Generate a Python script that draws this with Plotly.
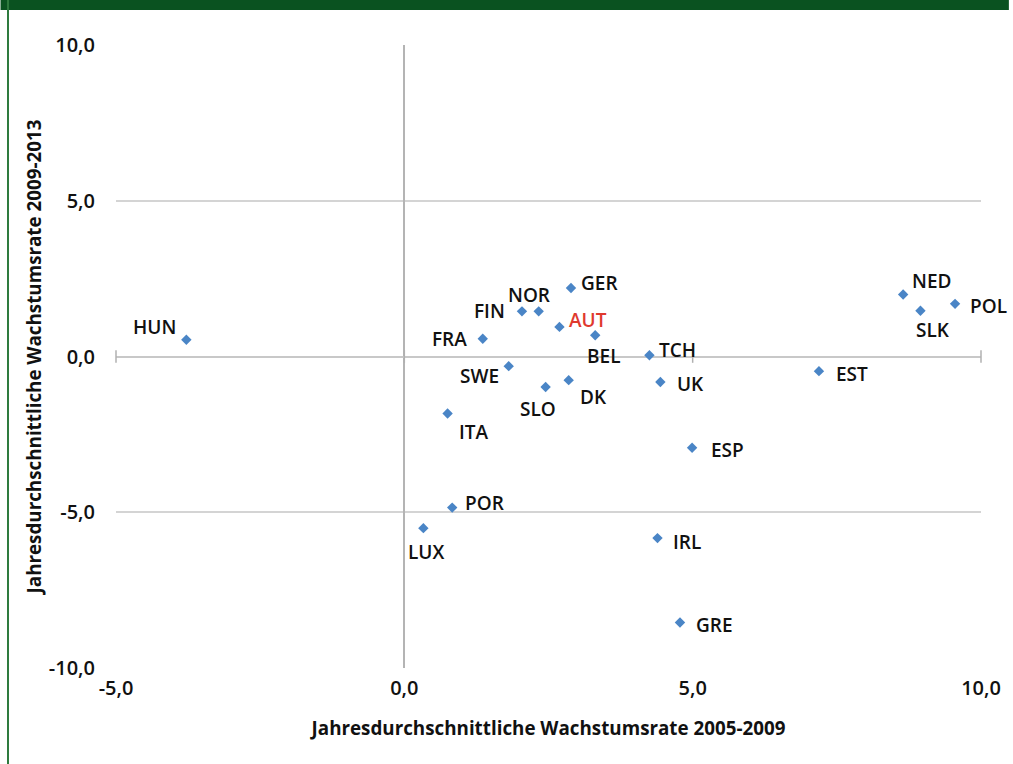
import plotly.graph_objects as go

# ---- data ----
countries = ["HUN", "FIN", "NOR", "FRA", "SWE", "ITA", "SLO", "GER", "AUT", "BEL", "DK",
             "TCH", "UK", "EST", "NED", "SLK", "POL", "ESP", "POR", "LUX", "IRL", "GRE"]
growth_2005_2009 = [-3.78, 2.04, 2.33, 1.36, 1.81, 0.75, 2.45, 2.89, 2.69, 3.31, 2.85,
                    4.25, 4.44, 7.19, 8.65, 8.95, 9.55, 4.99, 0.83, 0.33, 4.39, 4.78]
growth_2009_2013 = [0.54, 1.45, 1.45, 0.57, -0.31, -1.83, -0.98, 2.20, 0.95, 0.68, -0.76,
                    0.04, -0.82, -0.47, 1.99, 1.47, 1.69, -2.93, -4.85, -5.51, -5.83, -8.54]
x_tick_values = [-5, 0, 5, 10]
y_tick_values = [-10, -5, 0, 5, 10]
x_tick_text = [f"{v:.1f}".replace(".", ",") for v in x_tick_values]
y_tick_text = [f"{v:.1f}".replace(".", ",") for v in y_tick_values]
x_title = "Jahresdurchschnittliche Wachstumsrate 2005-2009"
y_title = "Jahresdurchschnittliche Wachstumsrate 2009-2013"

# ---- label offsets (pixels, style only) ----
label_dx = {"HUN": -32, "FIN": -32, "NOR": -10, "FRA": -33, "SWE": -29, "ITA": 26, "SLO": -8,
            "GER": 29, "AUT": 29, "BEL": 8, "DK": 25, "TCH": 28, "UK": 30, "EST": 33,
            "NED": 28, "SLK": 13, "POL": 33, "ESP": 35, "POR": 32, "LUX": 3, "IRL": 30, "GRE": 35}
label_dy = {"HUN": 13, "FIN": 0, "NOR": 16, "FRA": 0, "SWE": -10, "ITA": -18, "SLO": -22,
            "GER": 5, "AUT": 7, "BEL": -21, "DK": -17, "TCH": 5, "UK": -2, "EST": -3,
            "NED": 14, "SLK": -19, "POL": -2, "ESP": -2, "POR": 5, "LUX": -24, "IRL": -4, "GRE": -2}

W, H = 1013, 764
ML, MR, MT, MB = 116, 28, 45, 96
FONT = "Open Sans"

fig = go.Figure()

# axis tick marks on the zero line
fig.add_trace(go.Scatter(
    x=x_tick_values, y=[0] * len(x_tick_values), mode="markers",
    marker=dict(symbol="line-ns-open", size=9, color="#b0b0b0", line=dict(color="#b0b0b0", width=1.5)),
    hoverinfo="skip", showlegend=False, cliponaxis=False))

fig.add_trace(go.Scatter(
    x=growth_2005_2009, y=growth_2009_2013, mode="markers",
    marker=dict(symbol="diamond", size=8, color="#4a85c6"),
    text=countries, showlegend=False, cliponaxis=False))

for c, xv, yv in zip(countries, growth_2005_2009, growth_2009_2013):
    fig.add_annotation(
        x=xv, y=yv, text=c, showarrow=False,
        xshift=label_dx[c], yshift=label_dy[c],
        font=dict(family=FONT, size=19, weight=600,
                  color="#e0392e" if c == "AUT" else "#111111"))

pw = W - ML - MR
ph = H - MT - MB
# green top bar and left border line
fig.add_shape(type="rect", xref="paper", yref="paper",
              x0=-ML / pw, x1=1 + MR / pw, y0=1 + (MT - 10) / ph, y1=1 + MT / ph,
              fillcolor="#0a5220", line=dict(width=0), layer="above")
fig.add_shape(type="rect", xref="paper", yref="paper",
              x0=(-ML + 6.5) / pw, x1=(-ML + 8.5) / pw, y0=-MB / ph, y1=1 + MT / ph,
              fillcolor="#2e7a3e", line=dict(width=0), layer="above")

fig.update_layout(
    width=W, height=H,
    margin=dict(l=ML, r=MR, t=MT, b=MB),
    paper_bgcolor="white", plot_bgcolor="white",
    font=dict(family=FONT, color="#111111"),
    xaxis=dict(range=[-5, 10], tickvals=x_tick_values, ticktext=x_tick_text,
               showgrid=False, zeroline=True, zerolinecolor="#b4b4b4", zerolinewidth=1.5,
               showline=False, ticks="", ticklabelstandoff=6,
               tickfont=dict(family=FONT, size=20, weight=600, color="#111111"),
               title=dict(text=x_title, font=dict(family=FONT, size=18.8, weight="bold", color="#111"),
                          standoff=21)),
    yaxis=dict(range=[-10, 10], tickvals=y_tick_values, ticktext=y_tick_text,
               showgrid=True, gridcolor="#d4d4d4", gridwidth=2,
               zeroline=True, zerolinecolor="#c8c8c8", zerolinewidth=2,
               showline=False, ticks="", ticklabelstandoff=20,
               tickfont=dict(family=FONT, size=20, weight=600, color="#111111"),
               title=dict(text=y_title, font=dict(family=FONT, size=18.8, weight="bold", color="#111"),
                          standoff=2)),
)

fig.write_html("out.html", config={"displayModeBar": False},
               post_script="document.body.style.margin='0';")
